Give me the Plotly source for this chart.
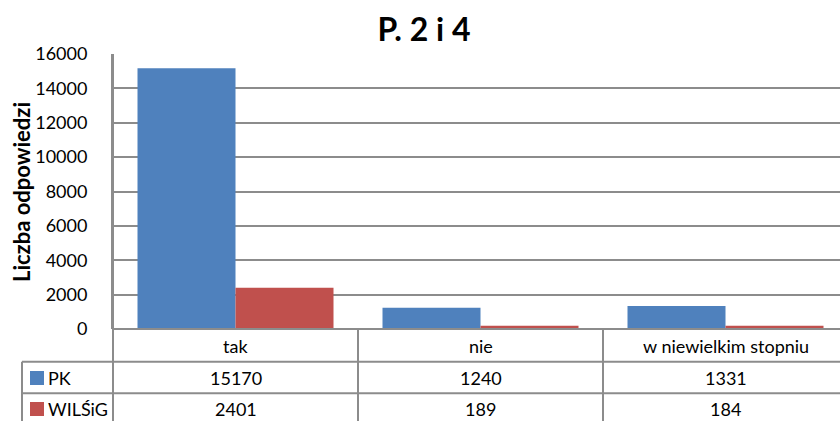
import plotly.graph_objects as go

categories = ["tak", "nie", "w niewielkim stopniu"]
series_names = ["PK", "WILŚiG"]
pk_values = [15170, 1240, 1331]
wilsig_values = [2401, 189, 184]
series_values = [pk_values, wilsig_values]
colors = ["#4F81BD", "#C0504D"]
y_ticks = [0, 2000, 4000, 6000, 8000, 10000, 12000, 14000, 16000]

W, H = 840, 421
L, R, T, B = 113, 0, 54, 92
PW, PH = W - L - R, H - T - B
FONT = "Lato"
GRID = "#8C8C8C"


def px(x):
    return (x - L) / PW


def py(y):
    return (H - B - y) / PH


fig = go.Figure()
for name, vals, col in zip(series_names, series_values, colors):
    fig.add_trace(go.Bar(x=categories, y=vals, name=name,
                         marker=dict(color=col, line=dict(width=0))))

shapes = []
ann = []
line = dict(color=GRID, width=2)
shapes.append(dict(type="line", xref="paper", yref="paper", x0=px(L), x1=1.0,
                   y0=py(329), y1=py(329), line=line))
for yy in (361.7, 393.3):
    shapes.append(dict(type="line", xref="paper", yref="paper", x0=px(22), x1=1.0,
                       y0=py(yy), y1=py(yy), line=line))
shapes.append(dict(type="line", xref="paper", yref="paper", x0=px(22), x1=px(22),
                   y0=py(361.7), y1=py(H + 5), line=line))
shapes.append(dict(type="line", xref="paper", yref="paper", x0=0, x1=0,
                   y0=1, y1=py(H + 5), line=line))
for i in range(len(categories) - 1):
    shapes.append(dict(type="line", xref="x", yref="paper", x0=i + 0.5, x1=i + 0.5,
                       y0=py(329), y1=py(H + 5), line=line))

for i, c in enumerate(categories):
    ann.append(dict(x=i, y=py(346), xref="x", yref="paper", text=c, showarrow=False,
                    font=dict(family=FONT, size=18, color="#000"), yanchor="middle"))
row_y = [378, 409]
for r, (name, vals, col) in enumerate(zip(series_names, series_values, colors)):
    for i, v in enumerate(vals):
        ann.append(dict(x=i, y=py(row_y[r]), xref="x", yref="paper", text=str(v),
                        showarrow=False, font=dict(family=FONT, size=18, color="#000"),
                        yanchor="middle"))
    shapes.append(dict(type="rect", xref="paper", yref="paper", x0=px(30), x1=px(44),
                       y0=py(row_y[r] - 7), y1=py(row_y[r] + 7),
                       fillcolor=col, line=dict(width=0)))
    ann.append(dict(x=px(46), y=py(row_y[r]), xref="paper", yref="paper", text=name,
                    showarrow=False, xanchor="left", yanchor="middle",
                    font=dict(family=FONT, size=18, color="#000")))

ann.append(dict(x=px(21), y=py(192), xref="paper", yref="paper",
                text="<b>Liczba odpowiedzi</b>", textangle=-90, showarrow=False,
                xanchor="center", yanchor="middle",
                font=dict(family=FONT, size=22, color="#000")))

fig.update_layout(
    width=W, height=H,
    margin=dict(l=L, r=R, t=T, b=B, pad=0, autoexpand=False),
    paper_bgcolor="white", plot_bgcolor="white",
    barmode="group", bargap=0.2, bargroupgap=0,
    showlegend=False,
    title=dict(text="<b>P. 2 i 4</b>", xref="paper", x=px(424), xanchor="center",
               yref="container", y=1 - 30 / H,
               yanchor="middle", font=dict(family=FONT, size=32, color="#000")),
    xaxis=dict(range=[-0.5, -0.5 + PW / 245.0], showticklabels=False, showgrid=False,
               zeroline=False, showline=False, ticks="", automargin=False),
    yaxis=dict(range=[0, 16000], tickvals=y_ticks, ticktext=[str(v) for v in y_ticks],
               showgrid=True, gridcolor=GRID,
               gridwidth=2, zeroline=False, showline=True, linecolor=GRID, linewidth=2,
               ticks="outside", ticklen=20, tickcolor="rgba(0,0,0,0)", automargin=False,
               tickfont=dict(family=FONT, size=18, color="#000")),
    shapes=shapes, annotations=ann,
)
fig.write_html("out.html", config={"displayModeBar": False},
               post_script="document.body.style.margin='0';document.body.style.overflow='hidden';")
